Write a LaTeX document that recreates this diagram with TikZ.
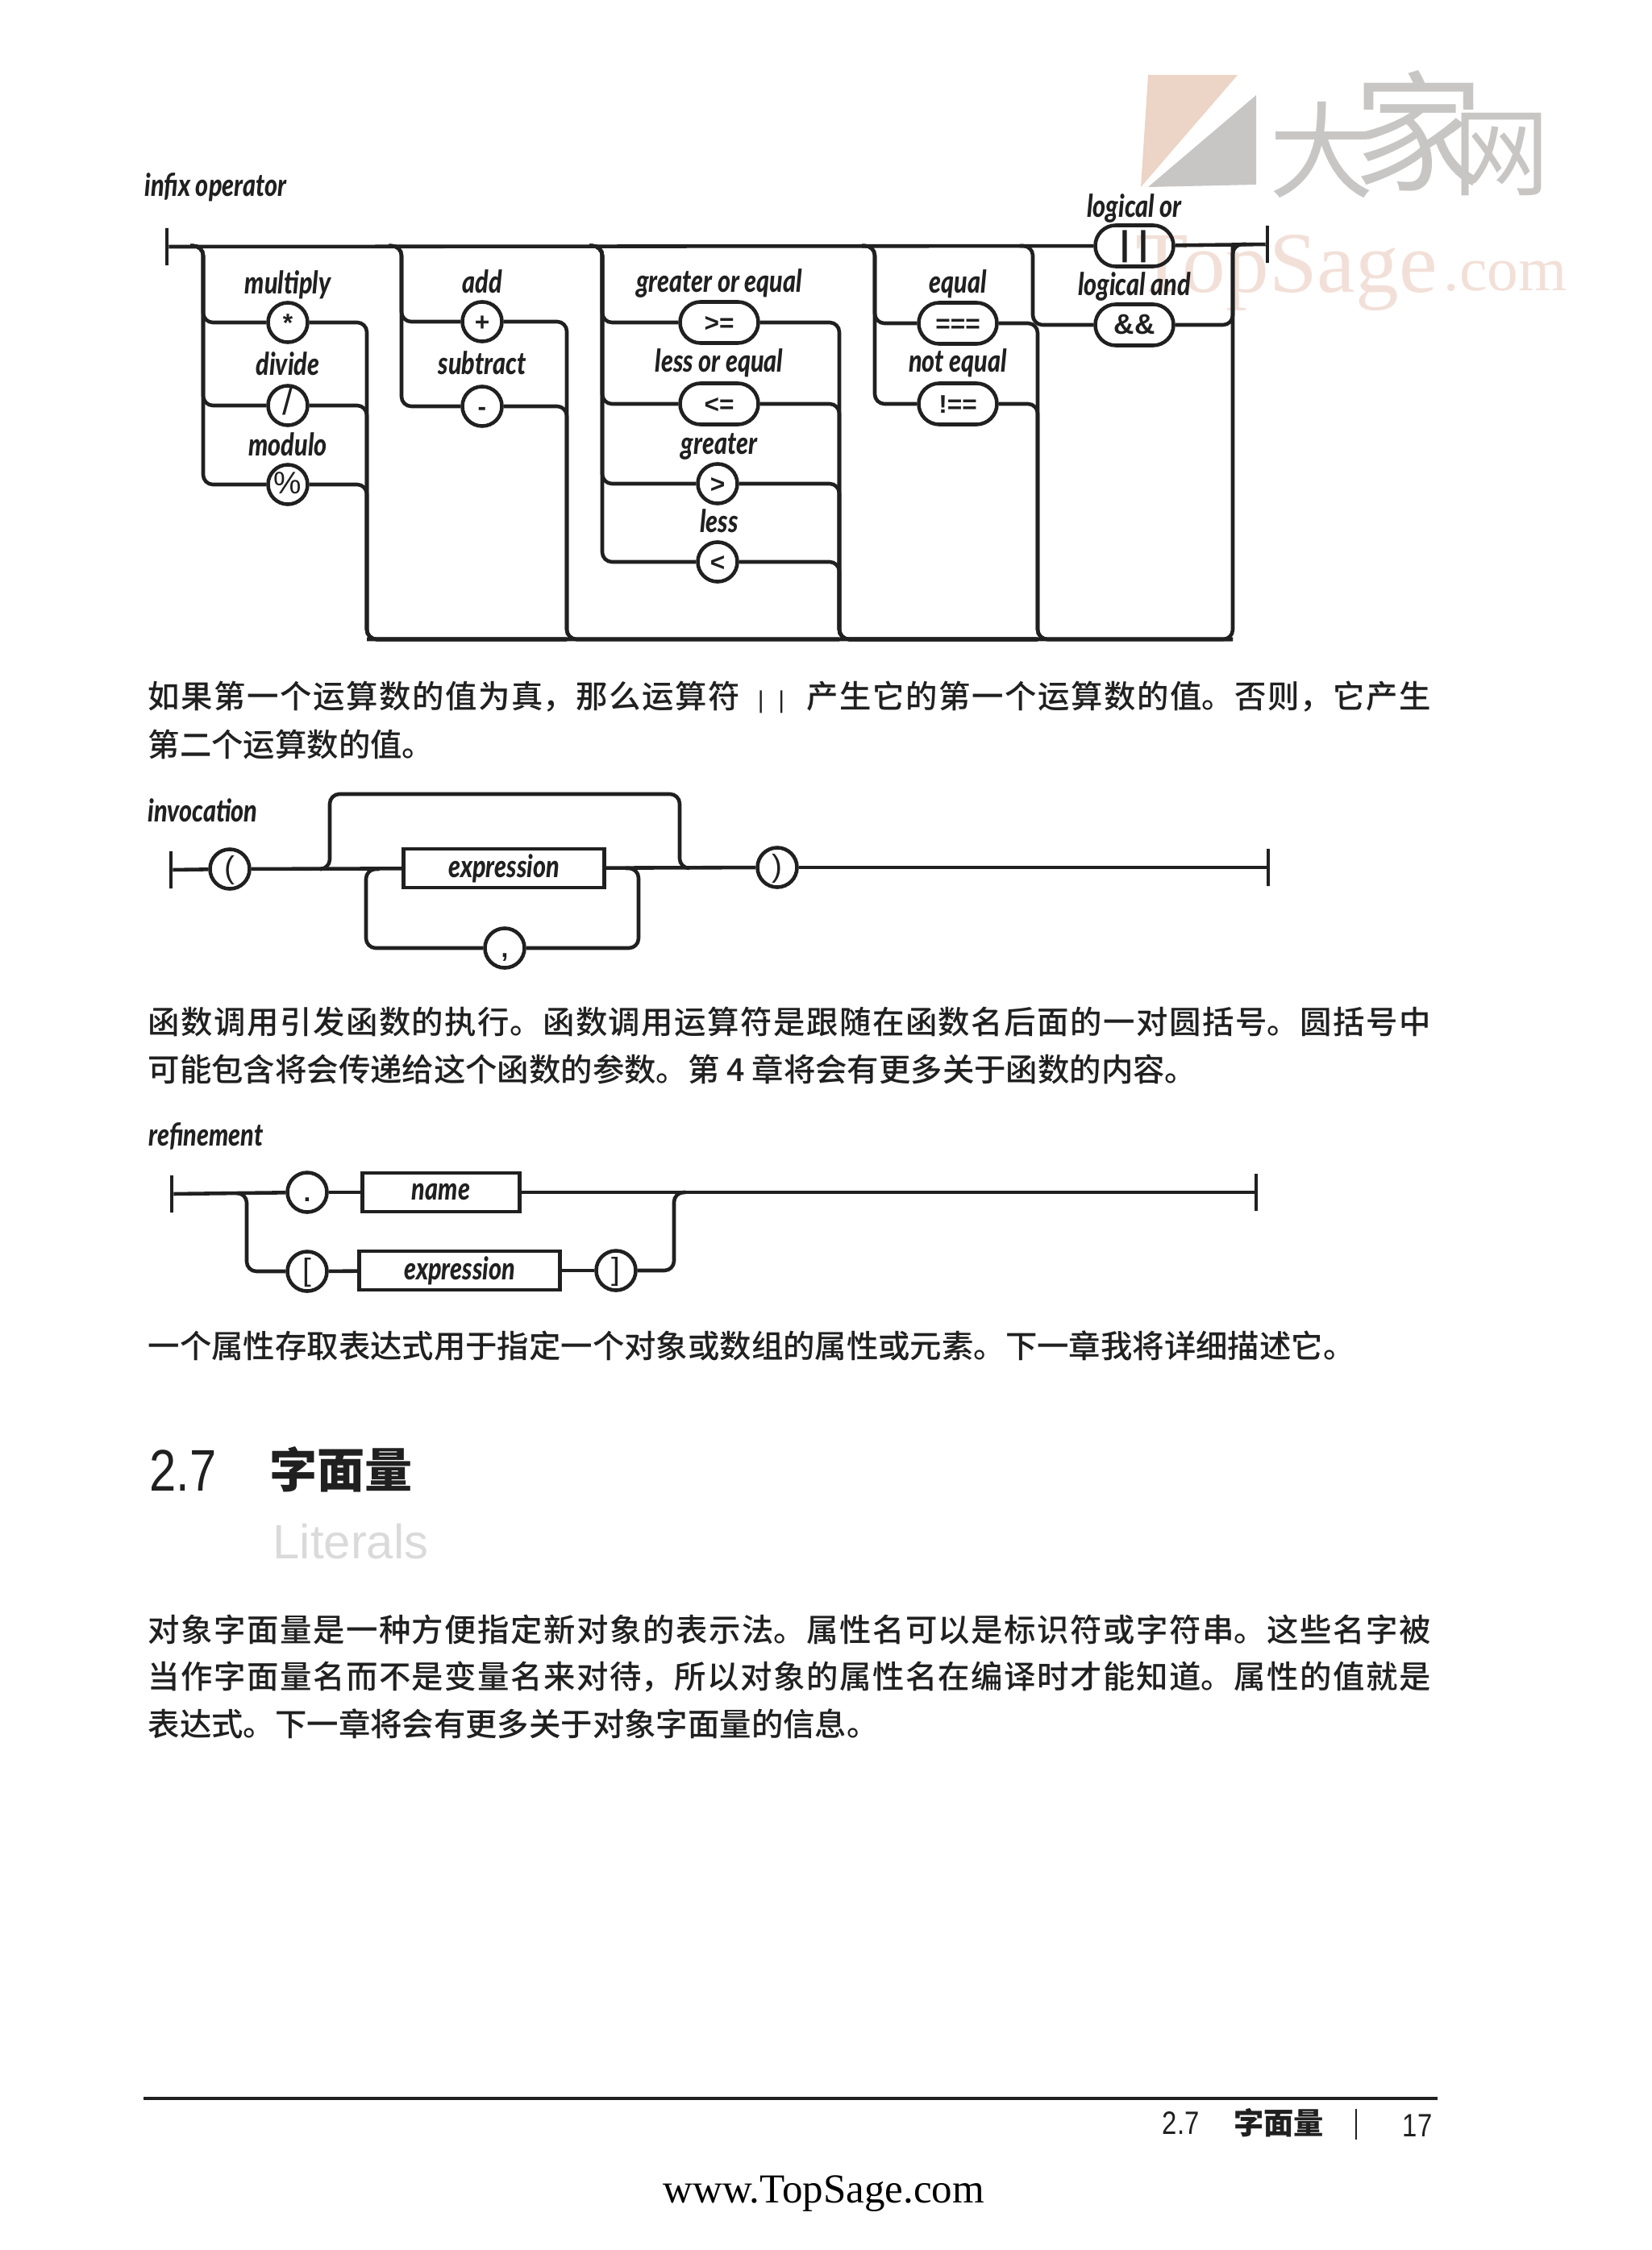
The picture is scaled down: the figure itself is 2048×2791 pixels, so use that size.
\documentclass[tikz,border=0pt]{standalone}
\usepackage{fontspec}
\usepackage{tikz}
\usetikzlibrary{shapes.misc,positioning}
\definecolor{ink}{RGB}{32,32,32}
\definecolor{blush}{RGB}{242,224,216}
\definecolor{peach}{RGB}{236,212,198}
\definecolor{ash}{RGB}{200,198,196}
\definecolor{faint}{RGB}{218,218,218}
\setmainfont{Liberation Sans}
\newfontfamily\cjk{Noto Sans CJK SC}
\newfontfamily\cjkmed{Noto Sans CJK SC Medium}
\newfontfamily\synfont[FakeStretch=0.79,UprightFont={* Black Italic}]{Lato}
\newfontfamily\tokfont{Liberation Sans}
\newfontfamily\footfont[FakeStretch=0.82]{Liberation Sans}
\newfontfamily\markfont{Liberation Serif}
\XeTeXlinebreaklocale "zh"
\XeTeXlinebreakskip=0pt plus 3pt minus 0.5pt
\tolerance=9999
\newcommand{\bigtok}{\mdseries\fontsize{11pt}{11pt}\selectfont}
\tikzset{
  rail/.style={draw=ink,line width=1.3pt,rounded corners=.12cm},
  lab/.style={anchor=base,inner sep=0pt,text=ink,font=\synfont\fontsize{11pt}{12pt}\selectfont},
  title/.style={lab,anchor=base west},
  tok/.style={draw=ink,line width=1.3pt,inner sep=0pt,text=ink,text height=6.5pt,text depth=0pt,font=\tokfont\bfseries\fontsize{9pt}{10pt}\selectfont},
  circ/.style={tok,circle,minimum size=.49cm},
  pill/.style={tok,rounded rectangle,minimum width=.97cm,minimum height=.51cm},
  box/.style={draw=ink,line width=1.4pt,inner sep=0pt,minimum height=.48cm,text=ink,font=\synfont\fontsize{11pt}{12pt}\selectfont},
  endbar/.style={draw=ink,line width=1.3pt,inner sep=0pt,minimum width=0pt,minimum height=.46cm},
  para/.style={anchor=north west,inner sep=0pt,text width=15.9cm,align=justify,text=ink,font=\cjkmed\fontsize{11.2pt}{17pt}\selectfont}
}
\begin{document}
\begin{tikzpicture}[x=.01cm,y=-.01cm]
  \useasboundingbox (0,0) rectangle (2048,2791);
  \fill[peach] (1424,93) -- (1535,93) -- (1415,232) -- cycle;
  \fill[ash] (1558,118) -- (1558,229) -- (1424,232) -- cycle;
  \node[text=ash,inner sep=0pt,font=\cjk\fontsize{37pt}{40pt}\selectfont] (wmDa) at (1640,186) {大};
  \node[text=ash,inner sep=0pt,font=\cjk\fontsize{46pt}{50pt}\selectfont] (wmJia) at (1759,162) {家};
  \node[text=ash,inner sep=0pt,font=\cjk\fontsize{34pt}{40pt}\selectfont] (wmWang) at (1862,192) {网};
  \node[text=blush,inner sep=0pt,anchor=base west,font=\markfont\fontsize{30.5pt}{32pt}\selectfont] (wmTop) at (1408,362) {TopSage};
  \node[text=blush,inner sep=0pt,anchor=base west,font=\markfont\fontsize{22pt}{24pt}\selectfont] (wmCom) at (1790,360) {.com};

  \node[title] (infixT) at (179,244) {infix operator};
  \node[endbar] (infixS) at (207,306) {};
  \node[endbar] (infixE) at (1572,303) {};
  \coordinate (colAin) at (236,305);
  \coordinate (colAx) at (252,305);
  \coordinate (colBin) at (482,305);
  \coordinate (colBx) at (498,305);
  \coordinate (colCin) at (731,305);
  \coordinate (colCx) at (747,305);
  \coordinate (colDin) at (1069,305);
  \coordinate (colDx) at (1085,305);
  \coordinate (colEin) at (1265,305);
  \coordinate (colEx) at (1281,305);
  \coordinate (botA) at (455,793);
  \coordinate (botB) at (703,793);
  \coordinate (botC) at (1041,793);
  \coordinate (botD) at (1287,793);
  \coordinate (botE) at (1529,793);
  \coordinate (exitM) at (1529,303);
  \coordinate (exitO) at (1546,303);

  \node[lab] (mulL) at (357,364) {multiply};
  \node[circ] (mulT) at (357,400) {*};
  \node[lab] (divL) at (357,465) {divide};
  \node[circ] (divT) at (357,503) {\mdseries\fontsize{13pt}{13pt}\selectfont /};
  \node[lab] (modL) at (357,565) {modulo};
  \node[circ] (modT) at (357,601) {\fontsize{11pt}{11pt}\selectfont\mdseries\%};
  \node[lab] (addL) at (598,363) {add};
  \node[circ] (addT) at (598,399) {+};
  \node[lab] (subL) at (598,464) {subtract};
  \node[circ] (subT) at (598,504) {-};
  \node[lab] (geL) at (892,362) {greater or equal};
  \node[pill] (geT) at (892,400) {>=};
  \node[lab] (leL) at (892,461) {less or equal};
  \node[pill] (leT) at (892,501) {<=};
  \node[lab] (gtL) at (892,563) {greater};
  \node[circ] (gtT) at (890,600) {>};
  \node[lab] (ltL) at (892,660) {less};
  \node[circ] (ltT) at (890,697) {<};
  \node[lab] (eqL) at (1188,363) {equal};
  \node[pill] (eqT) at (1188,401) {===};
  \node[lab] (neL) at (1188,461) {not equal};
  \node[pill] (neT) at (1188,501) {!==};
  \node[lab] (orL) at (1407,269) {logical or};
  \node[pill] (orT) at (1407,305) {\fontsize{12pt}{12pt}\selectfont |\kern3pt|};
  \node[lab] (andL) at (1407,366) {logical and};
  \node[pill] (andT) at (1407,403) {\fontsize{10pt}{10pt}\selectfont\&\&};

  \draw[rail] (infixS) -- (orT);
  \draw[rail] (orT) -- (infixE);
  \draw[rail] (colAin) -- (colAx) |- (mulT);
  \draw[rail] (colAin) -- (colAx) |- (divT);
  \draw[rail] (colAin) -- (colAx) |- (modT);
  \draw[rail] (colBin) -- (colBx) |- (addT);
  \draw[rail] (colBin) -- (colBx) |- (subT);
  \draw[rail] (colCin) -- (colCx) |- (geT);
  \draw[rail] (colCin) -- (colCx) |- (leT);
  \draw[rail] (colCin) -- (colCx) |- (gtT);
  \draw[rail] (colCin) -- (colCx) |- (ltT);
  \draw[rail] (colDin) -- (colDx) |- (eqT);
  \draw[rail] (colDin) -- (colDx) |- (neT);
  \draw[rail] (colEin) -- (colEx) |- (andT);
  \draw[rail] (mulT) -| (botA) -- (botB);
  \draw[rail] (divT) -| (botA) -- (botB);
  \draw[rail] (modT) -| (botA) -- (botB);
  \draw[rail] (addT) -| (botB) -- (botC);
  \draw[rail] (subT) -| (botB) -- (botC);
  \draw[rail] (geT) -| (botC) -- (botD);
  \draw[rail] (leT) -| (botC) -- (botD);
  \draw[rail] (gtT) -| (botC) -- (botD);
  \draw[rail] (ltT) -| (botC) -- (botD);
  \draw[rail] (eqT) -| (botD) -- (botE);
  \draw[rail] (neT) -| (botD) -- (botE);
  \draw[rail] (botA) -- (botE) -- (exitM) -- (exitO);
  \draw[rail] (andT) -| (exitM);

  \node[para] (parA) at (183,844) {如果第一个运算数的值为真，那么运算符\kern.55em{\tokfont\fontsize{8.5pt}{8.5pt}\selectfont |\kern5pt|}\kern.7em产生它的第一个运算数的值。否则，它产生\linebreak 第二个运算数的值。};

  \node[title] (invT) at (183,1019) {invocation};
  \node[endbar] (invS) at (212,1079) {};
  \node[endbar] (invE) at (1573,1076) {};
  \node[circ] (invO) at (285,1078) {\bigtok (};
  \node[box,minimum width=2.49cm] (invX) at (625,1077) {expression};
  \node[circ] (invC) at (626,1176) {,};
  \node[circ] (invQ) at (964,1076) {\bigtok )};
  \coordinate (invUin) at (399,1078);
  \coordinate (invUa) at (409,1078);
  \coordinate (invUb) at (409,985);
  \coordinate (invUc) at (843,985);
  \coordinate (invUd) at (843,1077);
  \coordinate (invUout) at (855,1077);
  \coordinate (invLin) at (470,1078);
  \coordinate (invLa) at (454,1078);
  \coordinate (invLb) at (454,1176);
  \coordinate (invLc) at (792,1176);
  \coordinate (invLd) at (792,1077);
  \coordinate (invLout) at (776,1077);
  \draw[rail] (invS) -- (invO);
  \draw[rail] (invO) -- (invX);
  \draw[rail] (invX) -- (invQ);
  \draw[rail] (invQ) -- (invE);
  \draw[rail] (invUin) -- (invUa) -- (invUb) -- (invUc) -- (invUd) -- (invUout);
  \draw[rail] (invLin) -- (invLa) -- (invLb) -- (invC);
  \draw[rail] (invC) -- (invLc) -- (invLd) -- (invLout);

  \node[para] (parB) at (183,1248) {函数调用引发函数的执行。函数调用运算符是跟随在函数名后面的一对圆括号。圆括号中\linebreak 可能包含将会传递给这个函数的参数。第 4 章将会有更多关于函数的内容。};

  \node[title] (refT) at (184,1421) {refinement};
  \node[endbar] (refS) at (213,1481) {};
  \node[endbar] (refE) at (1558,1479) {};
  \node[circ] (refD) at (381,1479) {.};
  \node[box,minimum width=1.95cm] (refN) at (547,1479) {name};
  \node[circ] (refA) at (381,1577) {\bigtok [};
  \node[box,minimum width=2.48cm] (refX) at (570,1576) {expression};
  \node[circ] (refB) at (764,1576) {\bigtok ]};
  \coordinate (refLin) at (294,1480);
  \coordinate (refLa) at (306,1480);
  \coordinate (refLb) at (306,1577);
  \coordinate (refRa) at (836,1576);
  \coordinate (refRb) at (836,1479);
  \coordinate (refRout) at (850,1479);
  \draw[rail] (refS) -- (refD);
  \draw[rail] (refD) -- (refN);
  \draw[rail] (refN) -- (refE);
  \draw[rail] (refLin) -- (refLa) -- (refLb) -- (refA);
  \draw[rail] (refA) -- (refX);
  \draw[rail] (refX) -- (refB);
  \draw[rail] (refB) -- (refRa) -- (refRb) -- (refRout);

  \node[para,align=left] (parC) at (183,1650) {\hbox to 15.2cm{一个属性存取表达式用于指定一个对象或数组的属性或元素。下一章我将详细描述它。\hfil}};

  \node[anchor=base west,inner sep=0pt,text=ink,font=\footfont\fontsize{20.7pt}{22pt}\selectfont] (secNo) at (185,1849) {2.7};
  \node[inner sep=0pt,text=ink,font=\cjk\bfseries\fontsize{16.8pt}{18pt}\selectfont] (secT) at (423,1823) {字面量};
  \node[anchor=base west,inner sep=0pt,text=faint,font=\fontsize{17pt}{18pt}\selectfont] (secE) at (338,1933) {Literals};

  \node[para,font=\cjkmed\fontsize{11.2pt}{16.6pt}\selectfont] (parD) at (183,2002) {对象字面量是一种方便指定新对象的表示法。属性名可以是标识符或字符串。这些名字被\linebreak 当作字面量名而不是变量名来对待，所以对象的属性名在编译时才能知道。属性的值就是\linebreak 表达式。下一章将会有更多关于对象字面量的信息。};

  \coordinate (ruleL) at (178,2603);
  \coordinate (ruleR) at (1783,2603);
  \draw[ink,line width=1.1pt] (ruleL) -- (ruleR);
  \node[anchor=base west,inner sep=0pt,text=ink,font=\footfont\fontsize{11.4pt}{12pt}\selectfont] (footNo) at (1441,2647) {2.7};
  \node[inner sep=0pt,text=ink,font=\cjk\bfseries\fontsize{10.6pt}{12pt}\selectfont] (footT) at (1586,2633) {字面量};
  \coordinate (sepT) at (1682,2616);
  \coordinate (sepB) at (1682,2654);
  \draw[ink,line width=.6pt] (sepT) -- (sepB);
  \node[anchor=base east,inner sep=0pt,text=ink,font=\footfont\fontsize{11.4pt}{12pt}\selectfont] (footP) at (1777,2650) {17};
  \node[anchor=base west,inner sep=0pt,text=black,font=\markfont\fontsize{14.5pt}{16pt}\selectfont] (footU) at (822,2732) {www.TopSage.com};
\end{tikzpicture}
\end{document}
